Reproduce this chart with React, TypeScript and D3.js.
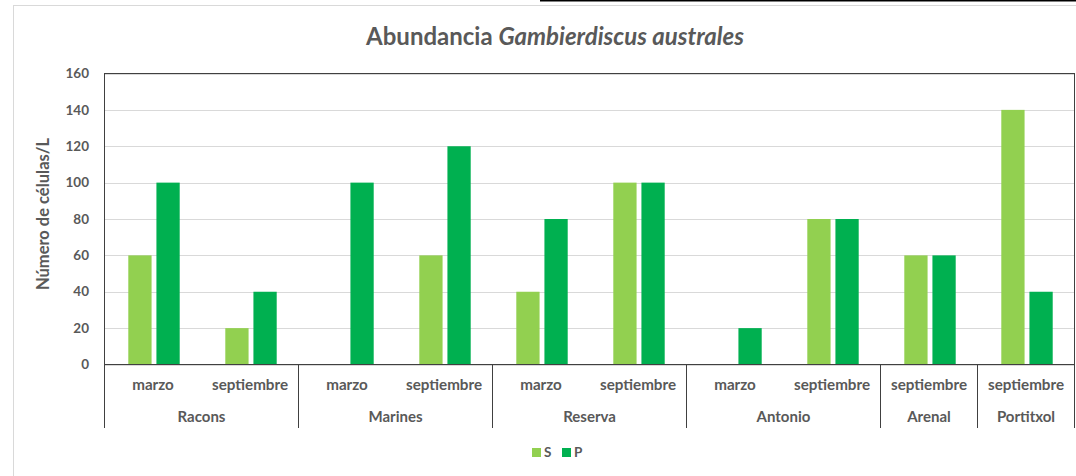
import React from "react"
import * as d3 from "d3"

// Data
const sites = ["Racons", "Marines", "Reserva", "Antonio", "Arenal", "Portitxol"]
const siteMonths = [
  ["marzo", "septiembre"],
  ["marzo", "septiembre"],
  ["marzo", "septiembre"],
  ["marzo", "septiembre"],
  ["septiembre"],
  ["septiembre"],
]
const seriesNames = ["S", "P"]
const valuesS = [60, 20, 0, 60, 40, 100, 0, 80, 60, 140]
const valuesP = [100, 40, 100, 120, 80, 100, 20, 80, 60, 40]
const yTicks = [0, 20, 40, 60, 80, 100, 120, 140, 160]

const colors = ["#92D050", "#00B050"]
const textColor = "#595959"
const font = "Lato, 'Open Sans', sans-serif"

export default function App() {
  const W = 1076
  const H = 476
  const left = 104.5
  const right = 1074.5
  const top = 73.5
  const bottom = 364.5
  const axisBottom = 428

  // flat list of slots (site + month)
  const slots: { site: number; month: string; key: string }[] = []
  siteMonths.forEach((ms, si) => ms.forEach((m) => slots.push({ site: si, month: m, key: `${si}-${m}` })))

  const x = d3.scaleBand<string>().domain(slots.map((s) => s.key)).range([left, right]).padding(0)
  const y = d3.scaleLinear().domain([0, 160]).range([bottom, top])
  const bw = x.bandwidth()
  const barW = bw * 0.24
  const gap = bw * 0.05
  const series = [valuesS, valuesP]

  // site boundaries
  const bounds: number[] = [left]
  let idx = 0
  siteMonths.forEach((ms) => {
    idx += ms.length
    bounds.push(left + idx * bw)
  })

  return (
    <svg width={W} height={H} style={{ position: "absolute", left: 0, top: 0, background: "#fff" }} fontFamily={font}>
      <rect x={13.5} y={5.5} width={1100} height={500} fill="#fff" stroke="#d9d9d9" />
      <line x1={540} x2={W} y1={0.75} y2={0.75} stroke="#000" strokeWidth={1.5} />

      <text x={555} y={45} textAnchor="middle" fontSize={24} fontWeight="bold" fill={textColor}>
        Abundancia <tspan fontStyle="italic">Gambierdiscus australes</tspan>
      </text>

      {/* gridlines */}
      {yTicks.map((t) => (
        <line key={t} x1={left} x2={right} y1={Math.round(y(t)) + 0.5} y2={Math.round(y(t)) + 0.5} stroke="#d9d9d9" strokeWidth={1} />
      ))}

      {/* bars */}
      {slots.map((s, i) => {
        const cx = (x(s.key) as number) + bw / 2 + 1
        const x0 = cx - gap / 2 - barW
        return series.map((vals, k) =>
          vals[i] > 0 ? (
            <rect
              key={`${s.key}-${k}`}
              x={k === 0 ? x0 : cx + gap / 2}
              y={y(vals[i])}
              width={barW}
              height={bottom - y(vals[i])}
              fill={colors[k]}
            />
          ) : null
        )
      })}

      {/* plot border */}
      <rect x={left} y={top} width={right - left} height={bottom - top} fill="none" stroke="#404040" strokeWidth={1} />

      {/* y tick labels */}
      {yTicks.map((t) => (
        <text key={t} x={89} y={y(t)} dy="0.35em" textAnchor="end" fontSize={13.5} fontWeight="bold" fill={textColor}>
          {t}
        </text>
      ))}
      <text
        transform={`translate(49,${(top + bottom) / 2 - 5}) rotate(-90)`}
        textAnchor="middle"
        fontSize={16.5}
        fontWeight="bold"
        fill={textColor}
      >
        Número de células/L
      </text>

      {/* multi-level category axis */}
      {bounds.map((b, i) => (
        <line key={i} x1={b} x2={b} y1={bottom} y2={axisBottom} stroke="#404040" strokeWidth={1} />
      ))}
      {slots.map((s) => (
        <text
          key={s.key}
          x={(x(s.key) as number) + bw / 2}
          y={385}
          dy="0.35em"
          textAnchor="middle"
          fontSize={15.2}
          fontWeight="bold"
          fill={textColor}
        >
          {s.month}
        </text>
      ))}
      {sites.map((name, i) => (
        <text
          key={name}
          x={(bounds[i] + bounds[i + 1]) / 2}
          y={417}
          dy="0.35em"
          textAnchor="middle"
          fontSize={15}
          fontWeight="bold"
          fill={textColor}
        >
          {name}
        </text>
      ))}

      {/* legend */}
      {seriesNames.map((n, k) => (
        <g key={n} transform={`translate(${532 + k * 30},448)`}>
          <rect width={9} height={9} fill={colors[k]} />
          <text x={12} y={4.5} dy="0.35em" fontSize={13.5} fontWeight="bold" fill={textColor}>
            {n}
          </text>
        </g>
      ))}
    </svg>
  )
}
